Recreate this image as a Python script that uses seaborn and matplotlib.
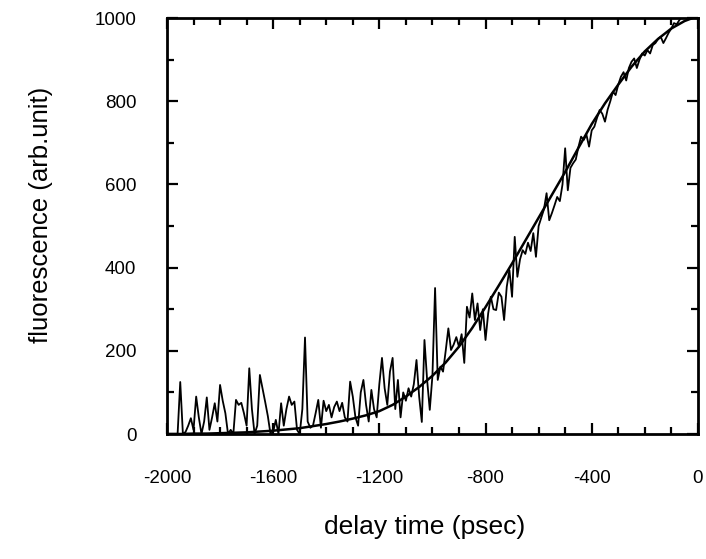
import numpy as np
import pandas as pd
import matplotlib
matplotlib.use("Agg")
import matplotlib.pyplot as plt
from matplotlib.ticker import MultipleLocator
import seaborn as sns

# measured trace, sampled every 10 psec from -1980 to 0
delay = np.arange(-1980, 1, 10)
fluo = [
    0, 0, 0, 125, 0, 5, 20, 38, 10, 90,
    40, 0, 30, 88, 10, 40, 74, 30, 118, 80,
    50, 0, 10, 0, 82, 70, 75, 50, 20, 158,
    60, 0, 20, 142, 110, 77, 43, 0, 5, 34,
    0, 74, 20, 60, 90, 70, 78, 10, 0, 60,
    232, 30, 15, 20, 50, 82, 15, 80, 55, 70,
    40, 65, 78, 55, 75, 40, 30, 126, 90, 40,
    20, 100, 130, 70, 30, 106, 60, 40, 120, 183,
    110, 70, 150, 183, 60, 130, 40, 100, 80, 110,
    90, 120, 178, 90, 29, 226, 130, 58, 140, 351,
    130, 162, 150, 200, 254, 202, 215, 233, 210, 240,
    171, 306, 280, 338, 274, 314, 250, 300, 226, 290,
    330, 300, 298, 340, 330, 274, 354, 394, 330, 474,
    378, 420, 442, 433, 460, 440, 483, 426, 500, 520,
    540, 579, 514, 531, 550, 570, 560, 600, 687, 586,
    640, 651, 660, 690, 715, 707, 720, 691, 730, 739,
    760, 779, 770, 751, 780, 800, 823, 815, 840, 859,
    870, 850, 880, 895, 903, 880, 900, 915, 910, 923,
    915, 935, 940, 950, 955, 940, 952, 965, 975, 988,
    985, 995, 1003, 1000, 1012, 1005, 1010, 1008, 1010,
]

# smooth fitted curve
fit_t = [-2000, -1950, -1900, -1850, -1800, -1750, -1700, -1650, -1600, -1550,
         -1500, -1450, -1400, -1350, -1300, -1250, -1200, -1150, -1100, -1050,
         -1000, -950, -900, -850, -800, -750, -700, -650, -600, -550,
         -500, -450, -400, -350, -300, -250, -200, -150, -100, -50, 0]
fit_y = [0, 0, 1, 1, 2, 3, 4, 6, 8, 11,
         14, 19, 24, 30, 37, 45, 55, 70, 90, 113,
         140, 172, 210, 255, 305, 357, 410, 465, 520, 575,
         630, 688, 745, 795, 840, 883, 920, 950, 975, 993, 1005]

df_meas = pd.DataFrame({"t": delay, "y": fluo})
df_fit = pd.DataFrame({"t": fit_t, "y": fit_y})

sns.set_style("ticks")
plt.rcParams["font.family"] = ["Liberation Sans", "DejaVu Sans"]
plt.rcParams["axes.unicode_minus"] = False
plt.rcParams["text.color"] = "black"
plt.rcParams["axes.labelcolor"] = "black"
plt.rcParams["xtick.color"] = "black"
plt.rcParams["ytick.color"] = "black"

fig = plt.figure(figsize=(7.06, 5.59), dpi=100)
ax = fig.add_axes([0.2365, 0.2236, 0.752, 0.744])

sns.lineplot(data=df_meas, x="t", y="y", ax=ax, color="black", linewidth=1.3)
sns.lineplot(data=df_fit, x="t", y="y", ax=ax, color="black", linewidth=1.8)

ax.set_xlim(-2000, 0)
ax.set_ylim(0, 1000)
ax.xaxis.set_major_locator(MultipleLocator(400))
ax.xaxis.set_minor_locator(MultipleLocator(100))
ax.yaxis.set_major_locator(MultipleLocator(200))
ax.yaxis.set_minor_locator(MultipleLocator(100))
ax.tick_params(which="both", direction="in", top=True, right=True,
               color="black", labelcolor="black", width=1.6)
ax.tick_params(which="major", length=8, labelsize=13.5)
ax.tick_params(axis="x", which="major", pad=26)
ax.tick_params(axis="y", which="major", pad=22)
ax.tick_params(which="minor", length=5)
for s in ax.spines.values():
    s.set_linewidth(2.0)
    s.set_color("black")

ax.set_xlabel("delay time (psec)", fontsize=19, color="black")
ax.set_ylabel("fluorescence (arb.unit)", fontsize=18.5, color="black")
ax.xaxis.set_label_coords(0.486, -0.195)
ax.yaxis.set_label_coords(-0.215, 0.526)

fig.savefig("out.png", dpi=100)
